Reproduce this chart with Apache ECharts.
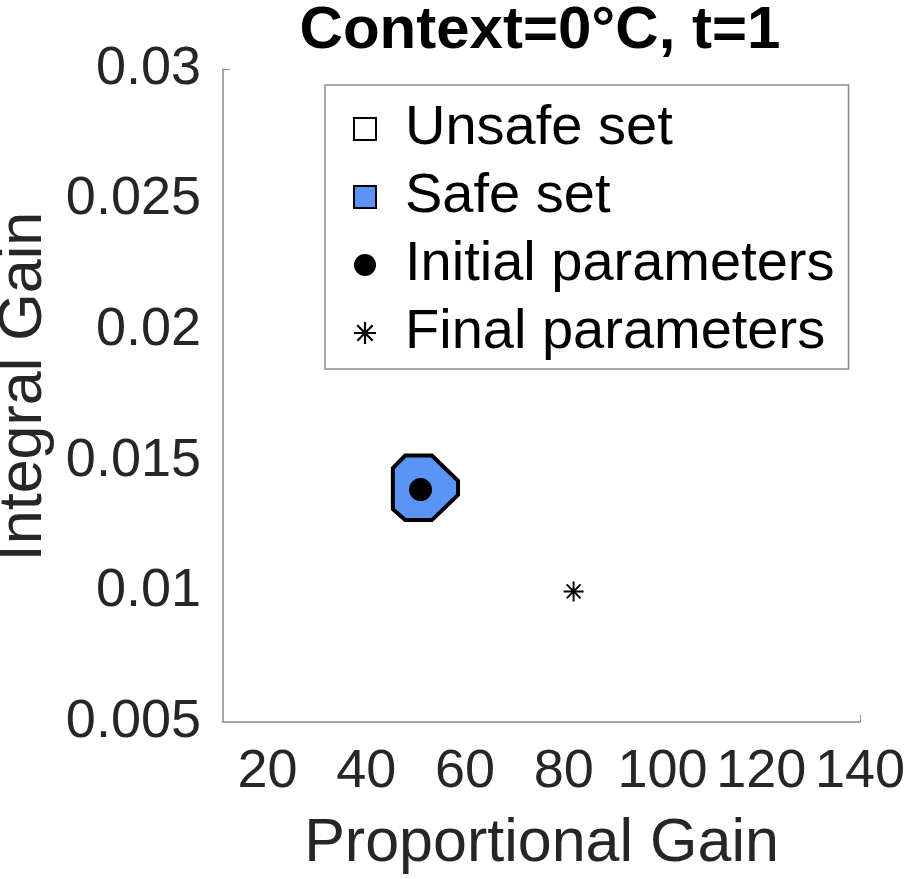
<!DOCTYPE html>
<html>
<head>
<meta charset="utf-8">
<script src="https://cdn.jsdelivr.net/npm/echarts@6/dist/echarts.min.js"></script>
<style>
  html, body { margin: 0; padding: 0; background: #fff; }
  #chart { width: 904px; height: 879px; }
</style>
</head>
<body>
<div id="chart"></div>
<script>
// axis ticks
const xTicks = [20, 40, 60, 80, 100, 120, 140];
const yTicks = [0.005, 0.01, 0.015, 0.02, 0.025, 0.03];

// safe set polygon (proportional gain, integral gain)
const safeX = [47.9, 53.3, 58.6, 58.6, 53.3, 47.9, 45.4, 45.4];
const safeY = [0.0152, 0.0152, 0.01423, 0.01369, 0.01273, 0.01273, 0.01315, 0.01472];

// parameter points
const initialParams = [51, 0.0139];
const finalParams = [82, 0.01];

const legendNames = ["Unsafe set", "Safe set", "Initial parameters", "Final parameters"];

const font = "Liberation Sans";
const axisGray = "#8c8c8c";
const textGray = "#262626";
const safeBlue = "#5c93f6";
const starPath = "path://M0,9L20,9L20,11L0,11Z M9,0L11,0L11,20L9,20Z M3.7,2.3L17.7,16.3L16.3,17.7L2.3,3.7Z M16.3,2.3L17.7,3.7L3.7,17.7L2.3,16.3Z";

const chart = echarts.init(document.getElementById("chart"));

const option = {
  animation: false,
  backgroundColor: "#fff",
  title: {
    text: "Context=0°C, t=1",
    left: 535,
    top: -4,
    textAlign: "center",
    textStyle: { fontFamily: font, fontSize: 60, fontWeight: "bold", color: "#000" }
  },
  grid: { left: 223, right: 44, top: 69, bottom: 157, outerBoundsMode: "none", containLabel: false },
  legend: {
    orient: "vertical",
    left: 325,
    top: 85,
    padding: [14, 14, 6, 28],
    itemGap: 8,
    itemWidth: 22,
    itemHeight: 22,
    borderColor: axisGray,
    borderWidth: 1.5,
    backgroundColor: "#fff",
    selectedMode: false,
    textStyle: {
      fontFamily: font,
      fontSize: 56,
      color: "#000",
      lineHeight: 60,
      padding: [0, 0, 0, 24]
    },
    data: [
      { name: legendNames[0], icon: "rect", itemStyle: { color: "#fff", borderColor: "#000", borderWidth: 2, opacity: 1 } },
      { name: legendNames[1], icon: "rect", itemStyle: { color: safeBlue, borderColor: "#000", borderWidth: 2, opacity: 1 } },
      { name: legendNames[2], icon: "circle", itemStyle: { color: "#000", opacity: 1 } },
      { name: legendNames[3], icon: starPath, itemStyle: { color: "#000", opacity: 1 } }
    ]
  },
  xAxis: {
    type: "value",
    min: 11,
    max: 140,
    name: "Proportional Gain",
    nameLocation: "middle",
    nameGap: 92,
    nameTextStyle: { fontFamily: font, fontSize: 61, color: textGray },
    axisLine: { show: true, lineStyle: { color: axisGray, width: 1.5 } },
    axisTick: { show: true, inside: true, length: 7, customValues: [140], lineStyle: { color: axisGray } },
    splitLine: { show: false },
    axisLabel: {
      customValues: xTicks,
      margin: 23,
      fontFamily: font,
      fontSize: 54,
      color: textGray
    }
  },
  yAxis: {
    type: "value",
    min: 0.005,
    max: 0.03,
    name: "Integral Gain",
    nameLocation: "middle",
    nameGap: 166,
    nameTextStyle: { fontFamily: font, fontSize: 61, color: textGray, padding: [0, 0, 0, 18] },
    axisLine: { show: true, lineStyle: { color: axisGray, width: 1.5 } },
    axisTick: { show: true, inside: true, length: 7, customValues: [0.03], lineStyle: { color: axisGray } },
    splitLine: { show: false },
    axisLabel: {
      customValues: yTicks,
      margin: 22,
      fontFamily: font,
      fontSize: 54,
      color: textGray,
      formatter: v => String(+v.toFixed(3))
    }
  },
  series: [
    {
      name: legendNames[0],
      type: "custom",
      data: [],
      renderItem: () => null
    },
    {
      name: legendNames[1],
      type: "custom",
      data: [[safeX[0], safeY[0]]],
      itemStyle: { color: safeBlue },
      renderItem: (params, api) => {
        const pts = safeX.map((x, i) => api.coord([x, safeY[i]]));
        return {
          type: "polygon",
          shape: { points: pts },
          style: { fill: safeBlue, stroke: "#000", lineWidth: 4, lineJoin: "miter" }
        };
      }
    },
    {
      name: legendNames[2],
      type: "scatter",
      symbol: "circle",
      symbolSize: 23,
      itemStyle: { color: "#000", opacity: 1 },
      data: [initialParams],
      z: 5
    },
    {
      name: legendNames[3],
      type: "scatter",
      symbol: starPath,
      symbolSize: 20,
      itemStyle: { color: "#000", opacity: 1 },
      data: [finalParams],
      z: 5
    }
  ]
};

chart.setOption(option);
</script>
</body>
</html>
